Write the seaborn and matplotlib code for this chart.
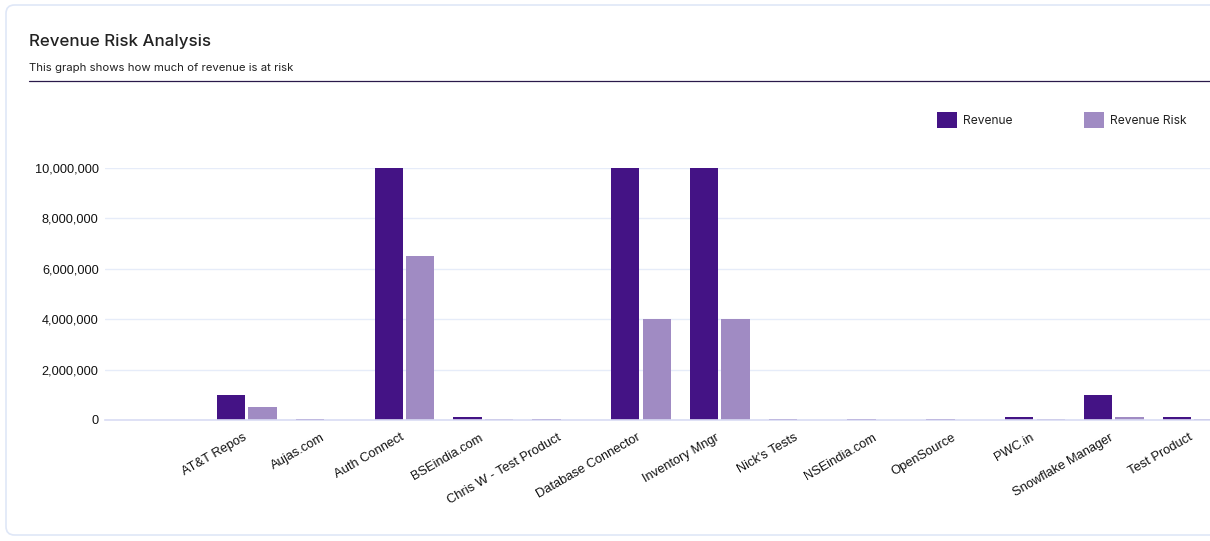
import numpy as np
import pandas as pd
import seaborn as sns
import matplotlib.pyplot as plt
from matplotlib.patches import Patch, FancyBboxPatch
from matplotlib.lines import Line2D
from matplotlib.ticker import FuncFormatter

### data
names = ["", "AT&T Repos", "Aujas.com", "Auth Connect", "BSEindia.com",
         "Chris W - Test Product", "Database Connector", "Inventory Mngr",
         "Nick's Tests", "NSEindia.com", "OpenSource", "PWC.in",
         "Snowflake Manager", "Test Product"]
revenue = [0, 1000000, 25000, 10000000, 100000, 25000, 10000000, 10000000,
           25000, 25000, 25000, 100000, 1000000, 100000]
revenue_risk = [0, 530000, 0, 6500000, 50000, 0, 4000000, 4000000,
                0, 0, 0, 50000, 100000, 20000]
series = ["Revenue", "Revenue Risk"]
colors = ["#441385", "#a08bc3"]

df = pd.DataFrame({
    'name': names * 2,
    'value': revenue + revenue_risk,
    'series': [series[0]] * len(names) + [series[1]] * len(names),
})

sns.set_style('white')
plt.rcParams['font.family'] = ['Inter', 'DejaVu Sans']

W, H = 1210, 541
fig = plt.figure(figsize=(W / 100, H / 100), dpi=100)
ax = fig.add_axes([105 / W, 1 - 420 / H, 1 - 105 / W, (420 - 168) / H])

sns.barplot(data=df, x='name', y='value', hue='series', order=names,
            hue_order=series, palette=colors, saturation=1, width=0.8,
            gap=0.1, errorbar=None, linewidth=0, ax=ax)
ax.get_legend().remove()

ax.set_xlim(-0.8, 13.22)
ax.set_ylim(0, 10000000)
ax.set_yticks(np.arange(0, 10000001, 2000000))
ax.yaxis.set_major_formatter(FuncFormatter(lambda v, p: f'{v:,.0f}'))
ax.set_xlabel('')
ax.set_ylabel('')

# grid + axis
ax.yaxis.grid(True, color='#e6ecf9', lw=1)
ax.set_axisbelow(True)
for s in ['left', 'top', 'right']:
    ax.spines[s].set_visible(False)
ax.spines['bottom'].set_color('#d9dcf4')
ax.spines['bottom'].set_linewidth(1.2)
ax.tick_params(axis='both', length=0)
ax.tick_params(axis='y', pad=4.5)
ax.tick_params(axis='x', pad=14)
for lab in ax.get_yticklabels():
    lab.set_family('Liberation Sans')
    lab.set_fontsize(9.2)
    lab.set_color('#111111')
ax.set_xticks(range(len(names)))
ax.set_xticklabels(names, rotation=30, ha='right', va='baseline',
                   rotation_mode='anchor', fontsize=9.3,
                   family='Liberation Sans', color='#111111')

# card border
card = FancyBboxPatch((6 / W, 1 - 535 / H), 1.05, 530 / H,
                      boxstyle='round,pad=0,rounding_size=0.007',
                      mutation_aspect=W / H, transform=fig.transFigure,
                      facecolor='none', edgecolor='#dfe7f7', lw=1.2)
fig.add_artist(card)

# title + subtitle
fig.text(29 / W, 1 - 46 / H, 'Revenue Risk Analysis', fontsize=12.2,
         fontweight='medium', color='#222222', va='baseline')
fig.text(29 / W, 1 - 71 / H, 'This graph shows how much of revenue is at risk',
         fontsize=8.2, color='#222222', va='baseline')
fig.add_artist(Line2D([29 / W, 1], [1 - 80.5 / H] * 2, color='#2a1a4a',
                      lw=0.9, transform=fig.transFigure))

# legend
handles = [Patch(facecolor=c, edgecolor='none') for c in colors]
fig.legend(handles, series, loc='center left',
           bbox_to_anchor=(937 / W, 1 - 120 / H), ncol=2, frameon=False,
           prop={'family': 'Inter', 'size': 8.7}, labelcolor='#222222',
           handlelength=1.65, handleheight=1.65, handletextpad=0.5,
           columnspacing=5.95, borderpad=0, borderaxespad=0)

fig.savefig('out.png', dpi=100)
plt.close()
